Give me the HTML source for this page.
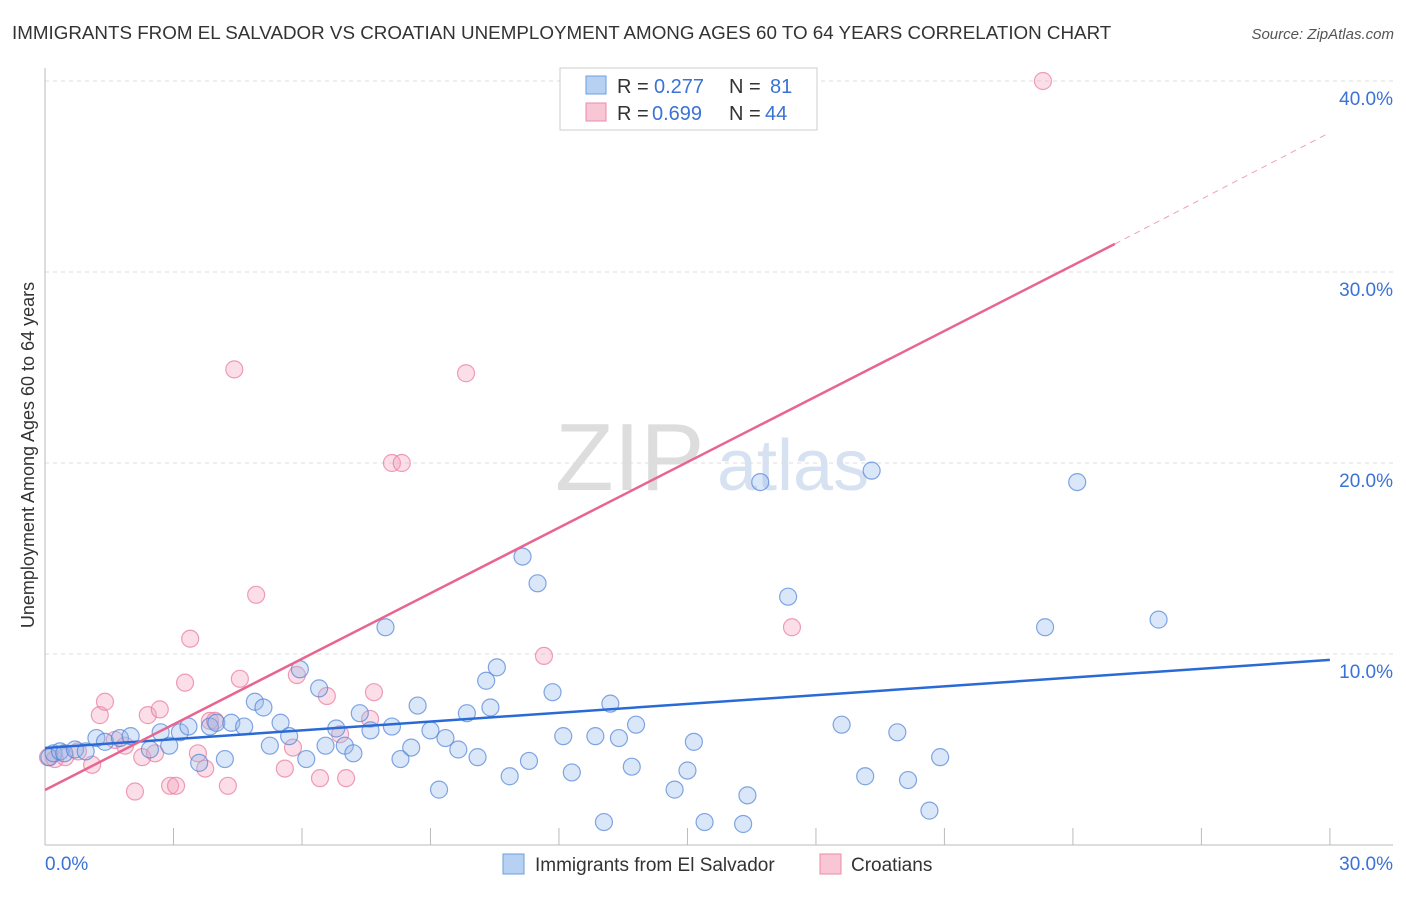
<!DOCTYPE html>
<html><head><meta charset="utf-8"><style>
body{margin:0;background:#fff;font-family:"Liberation Sans",sans-serif;}
svg text{font-family:"Liberation Sans",sans-serif;}
</style></head><body>
<svg id="c" width="1406" height="892">
<text x="12" y="39" font-size="18.8" fill="#333">IMMIGRANTS FROM EL SALVADOR VS CROATIAN UNEMPLOYMENT AMONG AGES 60 TO 64 YEARS CORRELATION CHART</text>
<text x="1394" y="39" font-size="15" fill="#555" font-style="italic" text-anchor="end">Source: ZipAtlas.com</text>
<text x="555" y="490" font-size="96" fill="#ddd" font-family="Liberation Serif">ZIP</text>
<text x="717" y="490" font-size="72" fill="#d6e2f2">atlas</text>
<g id="grid"></g><g id="marks"></g>
<text transform="translate(34,455) rotate(-90)" font-size="18" fill="#333" text-anchor="middle">Unemployment Among Ages 60 to 64 years</text>
<g>
<rect x="560" y="68" width="257" height="62" fill="#fff" stroke="#ccc"/>
<rect x="586" y="76" width="20" height="18" fill="#b7d1f3" stroke="#6d9de0"/>
<rect x="586" y="103" width="20" height="18" fill="#f9c6d5" stroke="#ec8ba8"/>
<text x="617" y="93" font-size="20" fill="#333">R =</text><text x="654" y="93" font-size="20" fill="#3a72d6">0.277</text>
<text x="729" y="93" font-size="20" fill="#333">N =</text><text x="770" y="93" font-size="20" fill="#3a72d6">81</text>
<text x="617" y="120" font-size="20" fill="#333">R =</text><text x="652" y="120" font-size="20" fill="#3a72d6">0.699</text>
<text x="729" y="120" font-size="20" fill="#333">N =</text><text x="765" y="120" font-size="20" fill="#3a72d6">44</text>
</g>
<g>
<rect x="503" y="854" width="21" height="20" fill="#b7d1f3" stroke="#6d9de0"/>
<text x="535" y="871" font-size="19" fill="#333">Immigrants from El Salvador</text>
<rect x="820" y="854" width="21" height="20" fill="#f9c6d5" stroke="#ec8ba8"/>
<text x="851" y="871" font-size="19" fill="#333">Croatians</text>
</g>
</svg>
<script>
const blueX=[0.1,0.2,0.35,0.45,0.7,0.95,1.2,1.4,1.75,2.0,2.45,2.7,2.9,3.15,3.35,3.6,3.85,4.0,4.2,4.35,4.65,4.9,5.1,5.25,5.5,5.7,5.95,6.1,6.4,6.55,6.8,7.0,7.2,7.35,7.6,7.95,8.1,8.3,8.55,8.7,9.0,9.2,9.35,9.65,9.85,10.1,10.3,10.4,10.55,10.85,11.15,11.3,11.5,11.85,12.1,12.3,12.85,13.05,13.2,13.4,13.7,13.8,14.7,15.0,15.15,15.4,16.3,16.4,16.7,17.35,18.6,19.15,19.3,19.9,20.15,20.65,20.9,23.35,24.1,26.0];
const blueY=[4.6,4.8,4.9,4.8,5.0,4.9,5.6,5.4,5.6,5.7,5.0,5.9,5.2,5.9,6.2,4.3,6.2,6.4,4.5,6.4,6.2,7.5,7.2,5.2,6.4,5.7,9.2,4.5,8.2,5.2,6.1,5.2,4.8,6.9,6.0,11.4,6.2,4.5,5.1,7.3,6.0,2.9,5.6,5.0,6.9,4.6,8.6,7.2,9.3,3.6,15.1,4.4,13.7,8.0,5.7,3.8,5.7,1.2,7.4,5.6,4.1,6.3,2.9,3.9,5.4,1.2,1.1,2.6,19.0,13.0,6.3,3.6,19.6,5.9,3.4,1.8,4.6,11.4,19.0,11.8];
const pinkX=[0.07,0.23,0.47,0.77,1.1,1.28,1.4,1.63,1.87,2.1,2.27,2.4,2.57,2.68,2.92,3.06,3.27,3.39,3.57,3.74,3.85,3.97,4.27,4.42,4.55,4.93,5.6,5.79,5.88,6.42,6.58,6.89,7.03,7.59,7.68,8.1,8.33,9.83,11.65,17.44,23.3];
const pinkY=[4.6,4.5,4.6,4.9,4.2,6.8,7.5,5.5,5.2,2.8,4.6,6.8,4.8,7.1,3.1,3.1,8.5,10.8,4.8,4.0,6.5,6.5,3.1,24.9,8.7,13.1,4.0,5.1,8.9,3.5,7.8,5.8,3.5,6.6,8.0,20.0,20.0,24.7,9.9,11.4,40.0];
const blueFit=[5.08,9.69];
const pinkFit=[2.88,31.47,37.3];
const pinkFitX=[0,24.98,30];
const xTicks=["0.0%","30.0%"];
const yTicks=[10,20,30,40];
const X=v=>45+v*42.83, Y=v=>845-v*19.1;
const NS="http://www.w3.org/2000/svg";
function mk(t,a,p){const e=document.createElementNS(NS,t);for(const k in a)e.setAttribute(k,a[k]);p.appendChild(e);return e;}
const g=document.getElementById('grid'),m=document.getElementById('marks');
yTicks.forEach(t=>{
 const l=mk('line',{x1:45,x2:1393,y1:Y(t),y2:Y(t),stroke:'#ddd','stroke-dasharray':'4,4'},g);
 
 
 const tx=mk('text',{x:1393,y:Y(t)+24,'font-size':19,fill:'#3a72d6','text-anchor':'end'},g);tx.textContent=t.toFixed(1)+'%';
 
 
});
mk('line',{x1:45,x2:45,y1:68,y2:845,stroke:'#bbb'},g);
mk('line',{x1:45,x2:1393,y1:845,y2:845,stroke:'#bbb'},g);
for(let i=0;i<=10;i++){const t=mk('line',{x1:X(i*3),x2:X(i*3),y1:828,y2:845,stroke:'#bbb'},g);
 
 }
const xl0=mk('text',{x:45,y:870,'font-size':19,fill:'#3a72d6'},g);xl0.textContent=xTicks[0];


const xl1=mk('text',{x:1393,y:870,'font-size':19,fill:'#3a72d6','text-anchor':'end'},g);xl1.textContent=xTicks[1];


pinkX.forEach((v,i)=>{const c=mk('circle',{cx:X(v),cy:Y(pinkY[i]),r:8.5,fill:'rgba(244,160,185,0.35)',stroke:'rgba(232,120,155,0.7)','stroke-width':1.2},m);
 
 });
blueX.forEach((v,i)=>{const c=mk('circle',{cx:X(v),cy:Y(blueY[i]),r:8.5,fill:'rgba(150,185,235,0.35)',stroke:'rgba(80,130,215,0.7)','stroke-width':1.2},m);
 
 });
const bl=mk('line',{x1:X(0),y1:Y(blueFit[0]),x2:X(30),y2:Y(blueFit[1]),stroke:'#2a6ad6','stroke-width':2.5},m);


const pl=mk('line',{x1:X(pinkFitX[0]),y1:Y(pinkFit[0]),x2:X(pinkFitX[1]),y2:Y(pinkFit[1]),stroke:'#e8658f','stroke-width':2.5},m);


const pd=mk('line',{x1:X(pinkFitX[1]),y1:Y(pinkFit[1]),x2:X(pinkFitX[2]),y2:Y(pinkFit[2]),stroke:'#f0a0b8','stroke-width':1,'stroke-dasharray':'6,5'},m);


</script>
</body></html>
